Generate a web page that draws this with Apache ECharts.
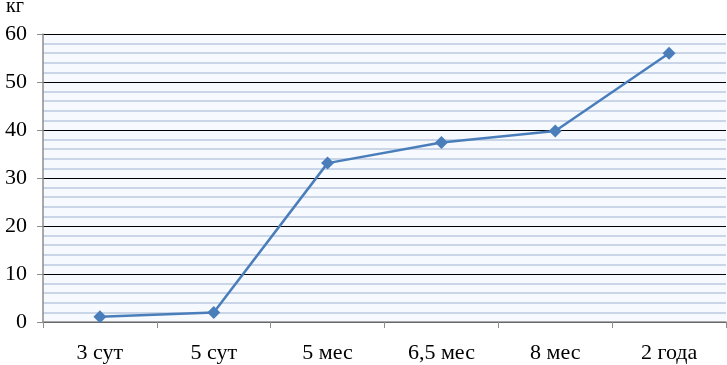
<!DOCTYPE html>
<html><head><meta charset="utf-8">
<script src="https://cdn.jsdelivr.net/npm/echarts@6/dist/echarts.min.js"></script>
<style>html,body{margin:0;padding:0;background:#fff}#c{width:727px;height:365px}</style>
</head><body><div id="c"></div>
<script>
const categories = ['3 сут', '5 сут', '5 мес', '6,5 мес', '8 мес', '2 года'];
const weights = [1.1, 2.0, 33.1, 37.4, 39.8, 56.0];
const yUnit = 'кг';

const chart = echarts.init(document.getElementById('c'));
const font = '"Liberation Serif", "Times New Roman", serif';
chart.setOption({
  animation: false,
  grid: { left: 43, right: 1, top: 34, bottom: 43, show: true, backgroundColor: '#f6f9fd', borderWidth: 0 },
  graphic: [{ type: 'text', left: 6, top: -3, style: { text: yUnit, font: '20px ' + font, fill: '#000' } }],
  xAxis: {
    type: 'category', data: categories, boundaryGap: true,
    axisLine: { lineStyle: { color: '#8c8c8c', width: 1.5 } },
    axisTick: { show: true, length: 6, lineStyle: { color: '#8c8c8c' } },
    axisLabel: { color: '#000', fontFamily: font, fontSize: 22, margin: 20 }
  },
  yAxis: {
    type: 'value', min: 0, max: 60, interval: 10,
    axisLine: { show: true, lineStyle: { color: '#8c8c8c', width: 1.5 } },
    axisTick: { show: true, length: 6, lineStyle: { color: '#8c8c8c' } },
    axisLabel: { color: '#000', fontFamily: font, fontSize: 22, margin: 16 },
    splitLine: { show: true, lineStyle: { color: '#000', width: 1.2 } },
    minorTick: { show: false, splitNumber: 5 },
    minorSplitLine: { show: true, lineStyle: { color: '#bccae0', width: 1.5 } }
  },
  series: [{
    type: 'line', data: weights,
    symbol: 'diamond', symbolSize: 13,
    lineStyle: { color: '#4a7ebb', width: 2.5 },
    itemStyle: { color: '#4a7ebb' }
  }]
});
</script></body></html>
